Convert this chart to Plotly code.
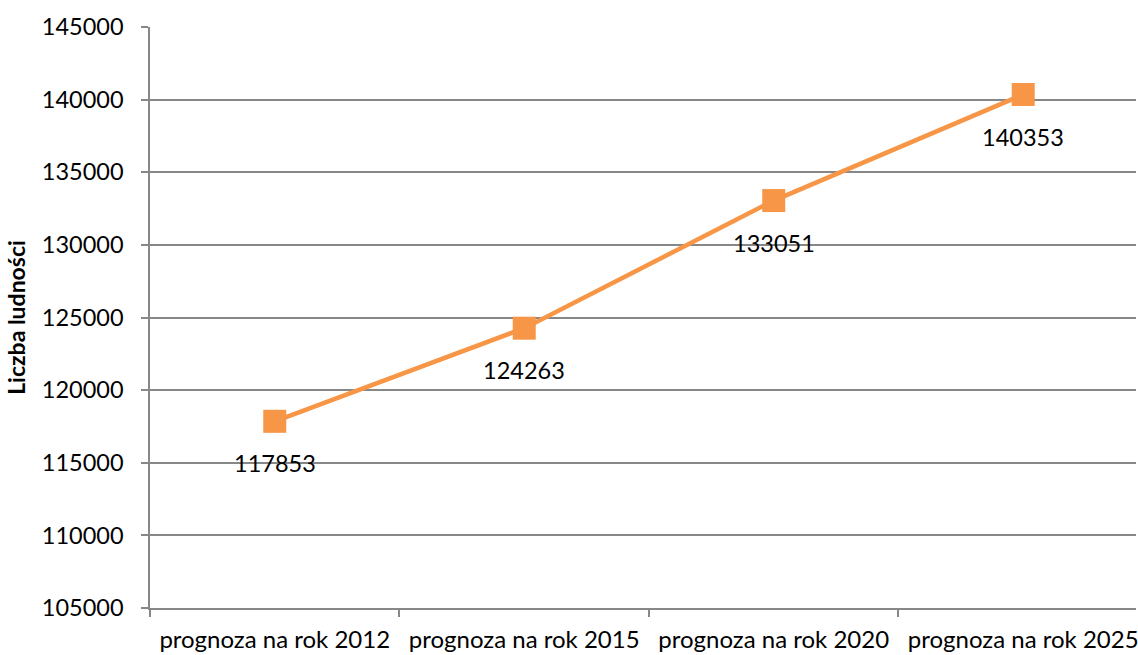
import plotly.graph_objects as go

categories = ["prognoza na rok 2012", "prognoza na rok 2015", "prognoza na rok 2020", "prognoza na rok 2025"]
population = [117853, 124263, 133051, 140353]
y_ticks = [105000, 110000, 115000, 120000, 125000, 130000, 135000, 140000, 145000]

FONT = "Lato, Carlito, Calibri, sans-serif"
ORANGE = "#F79646"
GRAY = "#878787"

fig = go.Figure()
fig.add_trace(go.Scatter(
    x=categories, y=population, mode="lines+markers",
    line=dict(color=ORANGE, width=4.5),
    marker=dict(symbol="square", size=23, color=ORANGE),
    hoverinfo="skip", showlegend=False, cliponaxis=False,
))

for c, v in zip(categories, population):
    fig.add_annotation(x=c, y=v, text=str(v), showarrow=False, yshift=-42,
                       font=dict(family=FONT, size=23.5, color="#000000"))

fig.update_layout(
    width=1138, height=655,
    margin=dict(l=150, r=0, t=27, b=47),
    paper_bgcolor="white", plot_bgcolor="white",
    font=dict(family=FONT, size=23, color="#000000"),
    xaxis=dict(
        type="category", range=[-0.5, 3.452],
        showline=True, linecolor=GRAY, linewidth=1.5,
        ticks="outside", tickson="boundaries", ticklen=7, tickcolor=GRAY, tickwidth=1.5,
        showgrid=False, ticklabelstandoff=9,
        tickfont=dict(family=FONT, size=24, color="#000000"),
    ),
    yaxis=dict(
        range=[105000, 145000], tickvals=y_ticks, ticktext=[str(t) for t in y_ticks],
        showline=True, linecolor=GRAY, linewidth=1.5,
        ticks="outside", ticklen=7, tickcolor=GRAY, tickwidth=1.5,
        showgrid=True, gridcolor=GRAY, gridwidth=1.5, zeroline=False,
        ticklabelstandoff=13,
        tickfont=dict(family=FONT, size=23.5, color="#000000"),
        title=dict(text="<b>Liczba ludności</b>", standoff=10,
                   font=dict(family=FONT, size=23, color="#000000")),
    ),
)

fig.write_html("out.html", config={"displayModeBar": False},
               post_script="document.body.style.margin='0';")
